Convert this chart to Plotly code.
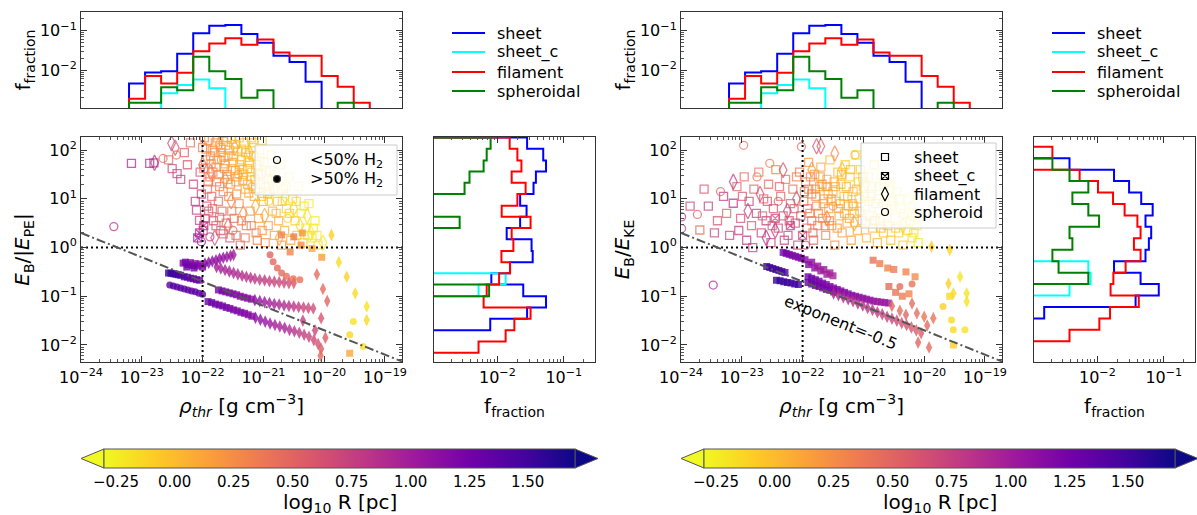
import plotly.graph_objects as go

W, H = 1197, 515
FONT = "DejaVu Sans"

# ---------------------------------------------------------------- data
# Histogram of rho_thr (log10 bin edges), identical sample in both panels
rho_edges = [-23.21, -22.946, -22.682, -22.418, -22.154, -21.89, -21.626,
             -21.362, -21.098, -20.834, -20.57, -20.306, -20.042, -19.778,
             -19.514, -19.25]
rho_frac_sheet = [4.6e-3, 8.7e-3, 9.4e-3, 0.026, 0.086, 0.133, 0.138, 0.082,
                  0.049, 0.023, 0.016, 5.1e-3, 0, 0, 0]
rho_frac_sheet_c = [0, 0, 2.6e-3, 4.2e-3, 5.8e-3, 3.5e-3, 0, 0, 0, 0, 0, 0, 0, 0, 0]
rho_frac_filament = [1.9e-3, 7.1e-3, 4.6e-3, 8.6e-3, 0.030, 0.047, 0.064, 0.044,
                     0.060, 0.028, 0.023, 0.023, 7.1e-3, 3.8e-3, 1.5e-3]
rho_frac_spheroidal = [1.5e-3, 1.5e-3, 3.7e-3, 3.1e-3, 0.022, 9.4e-3, 6.0e-3,
                       2.0e-3, 3.1e-3, 0, 0, 0, 0, 1.5e-3, 0]

# Histogram of E_B/|E_PE| (log10 bin edges, top to bottom)
pe_edges = [2.26, 2.03, 1.79, 1.56, 1.33, 1.10, 0.86, 0.63, 0.40, 0.17, -0.07,
            -0.30, -0.53, -0.76, -1.00, -1.23, -1.46, -1.70, -1.93, -2.16]
pe_frac_sheet = [0.028, 0.049, 0.054, 0.038, 0.035, 0.022, 0.0275, 0.022, 0.0138,
                 0.0327, 0.034, 0.0155, 0.0081, 0.0245, 0.054, 0.028, 0.0078, 0, 0]
pe_frac_sheet_c = [0, 0, 0, 0, 0, 0, 0, 0, 0, 0, 0, 0, 0.0133, 0.0052, 0, 0, 0, 0, 0]
pe_frac_filament = [0.0153, 0.020, 0.023, 0.0164, 0.0266, 0.020, 0.0116, 0.0316,
                    0.0164, 0.0174, 0.0115, 0.0155, 0.0106, 0.0069, 0.0062, 0.0316,
                    0.018, 0.0133, 0.0052]
pe_frac_spheroidal = [0.0079, 0.0069, 0.0062, 0.0038, 0.0032, 0, 0, 0.0027, 0, 0,
                      0, 0, 0, 0.0075, 0, 0, 0, 0, 0]

# Histogram of E_B/E_KE (log10 bin edges, top to bottom)
ke_edges = [2.07, 1.835, 1.60, 1.365, 1.13, 0.895, 0.66, 0.425, 0.19, -0.045,
            -0.28, -0.515, -0.75, -0.985, -1.22, -1.455, -1.69, -1.925]
ke_frac_sheet = [0, 0.0038, 0.0178, 0.030, 0.0457, 0.068, 0.053, 0.0646, 0.0596,
                 0.053, 0.0178, 0.0447, 0.084, 0.0376, 0.00158, 0, 0]
ke_frac_sheet_c = [0, 0, 0, 0, 0, 0, 0, 0, 0, 0, 0.0073, 0.0079, 0.0038, 0, 0, 0, 0]
ke_frac_filament = [0.0021, 0, 0.0054, 0.0102, 0.0172, 0.0257, 0.040, 0.0447,
                    0.0355, 0.0447, 0.0266, 0.0174, 0.0158, 0.042, 0.0155, 0.0107,
                    0.0038]
ke_frac_spheroidal = [0, 0.0021, 0.0038, 0.0073, 0.0042, 0.0073, 0.0106, 0.0038,
                      0.0042, 0.0021, 0.0026, 0.0073, 0, 0, 0, 0, 0]

# Structures: (log10 rho_thr, log10 energy ratio, log10 R/pc)
# --- E_B/|E_PE| panel, <50% H2 (open markers)
pe_sheet_open = [
    (-23.17, 1.73, 0.95), (-22.87, 1.73, 0.9), (-22.80, 1.74, 0.85), (-22.56, 1.80, 0.45),
    (-22.50, 1.62, 0.7), (-22.42, 1.52, 0.75), (-22.36, 1.40, 0.75), (-22.30, 1.95, 0.55),
    (-22.25, 1.70, 0.6), (-22.20, 2.15, 0.45), (-22.15, 1.30, 0.7), (-22.12, 0.95, 0.8),
    (-22.10, 0.77, 0.8), (-22.05, 0.56, 0.75), (-22.04, 1.55, 0.6), (-22.02, 1.10, 0.7),
    (-22.00, 2.05, 0.35), (-21.95, 1.80, 0.35), (-21.93, 0.85, 0.65), (-21.90, 2.20, 0.2),
    (-21.88, 1.45, 0.4), (-21.85, 1.05, 0.5), (-21.82, 0.55, 0.65), (-21.80, 1.95, 0.25),
    (-21.78, 1.65, 0.3), (-21.75, 2.25, 0.15), (-21.72, 1.25, 0.35), (-21.70, 0.35, 0.65),
    (-21.68, 0.75, 0.55), (-21.65, 1.85, 0.2), (-21.62, 2.10, 0.1), (-21.60, 1.50, 0.25),
    (-21.57, 1.05, 0.3), (-21.55, 0.20, 0.6), (-21.52, 2.22, 0.05), (-21.50, 1.75, 0.15),
    (-21.48, 0.60, 0.45), (-21.45, 1.35, 0.2), (-21.42, 1.98, 0.05), (-21.40, 0.90, 0.25),
    (-21.38, 0.05, 0.45), (-21.35, 1.60, 0.1), (-21.32, 2.15, 0.0), (-21.30, 1.20, 0.15),
    (-21.28, 0.45, 0.35), (-21.25, 1.85, 0.0), (-21.22, 0.75, 0.2), (-21.20, 1.45, 0.05),
    (-21.18, 2.05, -0.05), (-21.15, 1.05, 0.1), (-21.12, 0.30, 0.3), (-21.10, 1.70, -0.05),
    (-21.08, 0.60, 0.15), (-21.05, 1.30, 0.0), (-21.02, 2.20, -0.1), (-21.00, 0.95, 0.05),
    (-20.97, 0.10, 0.25), (-20.95, 1.55, -0.1), (-20.92, 0.45, 0.15), (-20.90, 1.15, -0.05),
    (-20.87, 1.90, -0.15), (-20.85, 0.75, 0.05), (-20.82, 0.25, 0.15), (-20.80, 1.40, -0.1),
    (-20.77, 0.95, -0.05), (-20.75, 0.55, 0.05), (-20.72, 1.70, -0.15), (-20.70, 0.05, 0.2),
    (-20.67, 1.20, -0.15), (-20.65, 0.35, 0.05), (-20.62, 0.80, -0.1), (-20.58, 1.45, -0.2),
    (-20.55, 0.15, 0.1), (-20.52, 1.00, -0.15), (-20.48, 0.55, -0.1), (-20.45, 0.25, -0.05),
    (-20.42, 1.25, -0.2), (-20.38, 0.70, -0.2), (-20.35, 0.10, -0.1), (-20.30, 0.40, -0.2),
    (-20.25, 0.90, -0.25), (-20.20, 0.20, -0.2), (-20.15, 0.55, -0.25), (-20.10, 0.05, -0.15),
    (-21.97, 2.25, 0.35), (-21.86, 1.72, 0.3), (-21.77, 1.35, 0.35), (-21.66, 1.15, 0.3),
    (-21.58, 1.88, 0.15), (-21.46, 1.58, 0.15), (-21.36, 1.80, 0.05), (-21.26, 1.62, 0.05),
    (-21.16, 1.88, -0.05), (-21.06, 1.78, -0.1), (-20.96, 1.25, -0.05), (-21.92, 1.20, 0.45),
    (-21.84, 2.00, 0.2), (-21.74, 0.95, 0.45), (-21.64, 1.62, 0.2), (-21.54, 1.30, 0.2),
    (-21.44, 1.10, 0.2), (-21.34, 1.38, 0.1), (-21.24, 1.12, 0.1), (-21.14, 1.40, 0.0),
    (-21.04, 1.50, -0.05), (-21.70, 2.05, 0.15), (-21.60, 2.25, 0.1), (-21.40, 2.25, 0.0),
    (-21.20, 2.25, -0.05),
    (-21.98, 1.62, 0.35), (-21.94, 2.02, 0.3), (-21.91, 1.35, 0.4), (-21.87, 1.88, 0.25),
    (-21.83, 1.55, 0.3), (-21.79, 2.15, 0.2), (-21.76, 1.80, 0.2), (-21.73, 1.50, 0.25),
    (-21.69, 1.95, 0.15), (-21.66, 2.18, 0.1), (-21.63, 1.72, 0.15), (-21.59, 1.40, 0.2),
    (-21.56, 2.00, 0.1), (-21.53, 1.62, 0.1), (-21.49, 1.88, 0.05), (-21.46, 2.12, 0.05),
    (-21.43, 1.45, 0.1), (-21.39, 1.70, 0.05), (-21.36, 2.02, 0.0), (-21.33, 1.50, 0.05),
    (-21.29, 1.95, 0.0), (-21.26, 1.30, 0.05), (-21.23, 1.75, -0.05), (-21.19, 1.55, 0.0),
    (-21.16, 2.15, -0.05), (-21.13, 1.20, 0.05), (-21.09, 1.52, -0.05), (-21.06, 2.00, -0.1),
    (-21.03, 1.05, 0.0), (-20.99, 1.75, -0.1), (-20.93, 1.10, -0.05), (-20.89, 1.58, -0.1),
    (-20.83, 1.20, -0.1), (-20.79, 0.70, 0.0), (-20.69, 0.95, -0.1), (-20.63, 1.25, -0.15),
    (-20.57, 0.70, -0.1), (-20.46, 0.95, -0.15), (-20.33, 0.85, -0.2), (-20.27, 0.25, -0.15),
    (-20.18, 0.40, -0.2), (-20.12, 0.25, -0.2),
    (-21.99, 0.35, 0.7), (-21.96, 0.60, 0.65), (-21.90, 0.75, 0.6), (-21.84, 0.80, 0.5),
    (-21.78, 0.45, 0.55), (-21.72, 0.62, 0.5), (-21.66, 0.28, 0.55), (-21.61, 0.50, 0.45),
    (-21.52, 0.75, 0.35), (-21.45, 0.25, 0.45), (-21.36, 0.55, 0.35), (-21.30, 0.20, 0.4),
    (-21.20, 0.45, 0.3), (-21.10, 0.15, 0.3), (-21.02, 0.35, 0.2),
]
pe_filament_open = [
    (-22.79, 1.74, 0.85), (-22.51, 2.14, 0.65), (-22.45, 2.05, 0.6), (-22.00, 1.70, 0.5),
    (-21.87, 1.55, 0.35), (-21.73, 2.12, 0.2), (-21.63, 1.40, 0.25), (-21.53, 0.95, 0.3),
    (-21.47, 2.05, 0.1), (-21.33, 0.70, 0.25), (-21.23, 1.95, 0.0), (-21.13, 0.85, 0.1),
    (-20.98, 0.65, 0.1), (-20.88, 1.35, -0.1), (-20.74, 0.20, 0.1), (-20.64, 1.05, -0.15),
    (-20.50, 0.80, -0.15), (-20.40, 0.45, -0.15), (-20.28, 0.65, -0.2), (-20.22, 0.30, -0.25),
    (-21.80, 0.20, 0.6), (-21.58, 0.45, 0.5), (-20.02, 0.10, -0.2),
]
pe_spheroid_open = [
    (-23.46, 0.43, 0.85), (-22.65, 1.83, 0.45), (-22.43, 1.90, 0.4), (-22.02, 0.12, 1.1),
    (-21.88, 0.22, 0.75), (-21.69, 1.80, 0.2), (-21.41, 1.50, 0.15), (-21.19, 1.25, 0.05),
    (-20.91, 0.95, -0.05), (-20.60, 0.60, -0.1), (-21.50, 0.35, 0.45),
]
pe_sheet_c_open = [(-22.05, 0.30, 0.95), (-21.98, 0.45, 0.85), (-22.08, 0.20, 1.0)]

# --- E_B/|E_PE| panel, >50% H2 (filled markers)
pe_sheet_c_fill = [
    (-22.56, -0.52, 1.55), (-22.52, -0.53, 1.55), (-22.48, -0.54, 1.5),
    (-22.44, -0.55, 1.5), (-22.40, -0.56, 1.5), (-22.36, -0.57, 1.45),
]
pe_sheet_fill = [
    (-22.30, -0.60, 1.4), (-22.25, -0.61, 1.4), (-22.20, -0.63, 1.35), (-22.15, -0.64, 1.35),
    (-22.10, -0.66, 1.3), (-22.05, -0.67, 1.3),
    (-22.32, -0.32, 1.25), (-22.28, -0.30, 1.25), (-22.24, -0.35, 1.2), (-22.20, -0.31, 1.2),
    (-22.16, -0.37, 1.2), (-22.12, -0.33, 1.15), (-22.08, -0.38, 1.2), (-22.04, -0.34, 1.15),
    (-22.00, -0.40, 1.15), (-22.26, -0.40, 1.3), (-22.14, -0.42, 1.25),
    (-20.70, 0.26, 0.3), (-20.50, 0.22, 0.35), (-20.36, 0.30, 0.2), (-20.56, -0.09, 0.3),
    (-20.20, -0.02, 0.05), (-20.04, -0.20, 0.15), (-20.38, 0.05, 0.25), (-19.58, -2.17, 0.1),
    (-21.91, -1.11, 1.3), (-21.85, -1.13, 1.3), (-21.79, -1.16, 1.28), (-21.73, -1.18, 1.27),
    (-21.67, -1.20, 1.25), (-21.61, -1.23, 1.25), (-21.55, -1.25, 1.22), (-21.49, -1.28, 1.2),
    (-21.43, -1.30, 1.2), (-21.37, -1.33, 1.18), (-21.31, -1.35, 1.17), (-21.25, -1.38, 1.15),
    (-21.19, -1.41, 1.15),
    (-21.74, -0.87, 1.25), (-21.68, -0.89, 1.25), (-21.62, -0.91, 1.22), (-21.56, -0.93, 1.2),
    (-21.50, -0.95, 1.2), (-21.44, -0.97, 1.18), (-21.38, -1.00, 1.17), (-21.32, -1.02, 1.15),
    (-21.26, -1.04, 1.13), (-21.20, -1.06, 1.12),
]
pe_filament_fill = [
    (-21.96, -0.33, 1.15), (-21.90, -0.31, 1.15), (-21.84, -0.28, 1.12), (-21.78, -0.26, 1.1),
    (-21.72, -0.23, 1.1), (-21.66, -0.21, 1.08), (-21.60, -0.19, 1.05), (-21.54, -0.17, 1.05),
    (-21.49, -0.15, 1.0),
    (-21.77, -0.40, 1.0), (-21.70, -0.43, 0.98), (-21.63, -0.46, 0.95), (-21.56, -0.49, 0.95),
    (-21.49, -0.52, 0.92), (-21.42, -0.55, 0.9), (-21.35, -0.58, 0.88), (-21.28, -0.60, 0.87),
    (-21.21, -0.62, 0.85), (-21.14, -0.64, 0.82), (-21.06, -0.66, 0.8), (-20.98, -0.67, 0.78),
    (-20.90, -0.69, 0.75), (-20.82, -0.70, 0.72), (-20.74, -0.71, 0.7), (-20.66, -0.72, 0.68),
    (-20.58, -0.73, 0.65), (-20.50, -0.73, 0.6),
    (-21.14, -1.08, 1.1), (-21.06, -1.10, 1.07), (-20.98, -1.12, 1.03), (-20.90, -1.14, 1.0),
    (-20.82, -1.16, 0.97), (-20.74, -1.17, 0.93), (-20.66, -1.19, 0.9), (-20.58, -1.20, 0.87),
    (-20.50, -1.21, 0.82), (-20.42, -1.22, 0.78), (-20.34, -1.23, 0.73), (-20.26, -1.24, 0.7),
    (-20.18, -1.25, 0.65),
    (-21.13, -1.44, 1.12), (-21.05, -1.48, 1.1), (-20.97, -1.52, 1.07), (-20.89, -1.56, 1.03),
    (-20.81, -1.59, 1.0), (-20.73, -1.62, 0.97), (-20.65, -1.65, 0.95), (-20.57, -1.69, 0.9),
    (-20.49, -1.72, 0.85), (-20.41, -1.75, 0.8), (-20.33, -1.79, 0.77), (-20.25, -1.83, 0.73),
    (-20.17, -1.90, 0.68), (-20.10, -1.98, 0.62), (-20.05, -2.08, 0.55),
    (-20.35, -1.50, 0.75), (-20.15, -1.70, 0.7), (-20.05, -1.45, 0.6), (-19.98, -1.85, 0.55),
    (-20.06, -2.22, 0.45), (-19.95, -1.10, 0.5), (-20.02, -0.85, 0.45), (-20.12, -0.55, 0.45),
    (-19.88, 0.26, -0.1), (-19.76, -0.30, -0.15), (-19.63, -0.60, -0.1), (-19.49, -0.94, -0.15),
    (-19.30, -1.21, -0.2), (-19.30, -1.49, -0.15),
]
pe_spheroid_fill = [
    (-20.89, -0.15, 0.5), (-20.84, -0.29, 0.48), (-20.77, -0.42, 0.46), (-20.70, -0.52, 0.45),
    (-20.62, -0.59, 0.43), (-20.51, -0.64, 0.42), (-20.40, -0.66, 0.4),
    (-22.54, -0.77, 1.4), (-22.48, -0.79, 1.4), (-22.42, -0.81, 1.38), (-22.36, -0.83, 1.38),
    (-22.30, -0.85, 1.36), (-22.24, -0.87, 1.36), (-22.18, -0.89, 1.35), (-22.12, -0.91, 1.35),
    (-22.06, -0.94, 1.33), (-22.00, -0.96, 1.33),
    (-19.52, -1.52, -0.2), (-19.58, -1.79, -0.15), (-19.36, -2.03, -0.2),
]

# --- E_B/E_KE panel, <50% H2 (open markers)
ke_sheet_open = [
    (-23.69, 0.36, 0.45), (-23.55, 0.85, 0.75), (-23.40, 0.55, 0.6), (-23.30, 1.05, 0.8),
    (-23.20, 0.25, 0.7), (-23.14, 0.91, 0.85), (-23.08, 1.25, 0.5), (-23.02, 0.60, 0.65),
    (-22.96, 1.45, 0.45), (-22.92, 0.15, 0.8), (-22.88, 0.95, 0.7), (-22.84, 0.45, 0.6),
    (-22.80, 1.20, 0.55), (-22.76, 0.70, 0.75), (-22.72, 1.55, 0.4), (-22.68, 0.30, 0.7),
    (-22.64, 1.00, 0.5), (-22.60, 0.55, 0.8), (-22.56, 1.30, 0.45), (-22.52, 0.10, 0.75),
    (-22.48, 0.80, 0.6), (-22.44, 1.60, 0.35), (-22.40, 0.40, 0.7), (-22.36, 1.05, 0.5),
    (-22.32, 0.65, 0.65), (-22.28, 1.40, 0.4), (-22.24, 0.25, 0.75), (-22.20, 0.90, 0.55),
    (-22.16, 1.20, 0.45), (-22.12, 0.50, 0.65), (-22.08, 0.05, 0.7), (-22.05, 1.55, 0.4),
    (-23.85, 0.85, 0.7), (-23.62, 1.20, 0.6), (-23.45, 0.30, 0.75), (-23.25, 0.70, 0.55),
    (-23.05, 0.35, 0.8), (-22.99, 1.05, 0.6), (-22.82, 0.00, 0.75), (-22.66, 0.65, 0.55),
    (-22.58, 0.95, 0.65), (-22.50, 0.45, 0.55), (-22.38, 1.25, 0.5), (-22.30, 0.15, 0.7),
    (-22.22, 0.55, 0.6), (-22.14, 0.80, 0.55), (-22.10, 1.45, 0.35), (-22.03, 0.65, 0.6),
    (-21.98, 0.95, 0.4), (-21.95, 1.35, 0.3), (-21.93, 0.40, 0.45), (-21.90, 1.75, 0.2),
    (-21.88, 0.70, 0.35), (-21.85, 1.10, 0.3), (-21.82, 0.15, 0.45), (-21.80, 1.50, 0.15),
    (-21.77, 0.85, 0.25), (-21.75, 0.45, 0.35), (-21.72, 1.25, 0.15), (-21.70, 1.65, 0.1),
    (-21.67, 0.60, 0.25), (-21.65, 1.00, 0.15), (-21.62, 0.25, 0.3), (-21.60, 1.40, 0.05),
    (-21.57, 0.80, 0.15), (-21.55, 1.80, 0.0), (-21.52, 0.45, 0.2), (-21.50, 1.15, 0.05),
    (-21.47, 0.05, 0.25), (-21.45, 0.95, 0.05), (-21.42, 1.55, 0.0), (-21.40, 0.65, 0.1),
    (-21.37, 1.30, 0.0), (-21.35, 0.30, 0.15), (-21.32, 1.05, 0.0), (-21.30, 1.70, -0.1),
    (-21.27, 0.50, 0.1), (-21.25, 0.85, 0.0), (-21.22, 1.45, -0.1), (-21.20, 0.15, 0.15),
    (-21.17, 1.15, -0.05), (-21.15, 0.70, 0.0), (-21.12, 1.90, -0.15), (-21.10, 0.35, 0.1),
    (-21.07, 1.00, -0.05), (-21.05, 1.60, -0.1), (-21.02, 0.55, 0.05), (-21.00, 1.25, -0.05),
    (-20.97, 0.85, -0.05), (-20.95, 0.20, 0.05), (-20.92, 1.45, -0.15), (-20.90, 0.65, -0.05),
    (-20.87, 1.05, -0.1), (-20.85, 0.40, 0.0), (-20.82, 1.70, -0.15), (-20.80, 0.90, -0.1),
    (-20.77, 0.10, 0.05), (-20.75, 1.25, -0.15), (-20.72, 0.60, -0.1), (-20.70, 1.50, -0.2),
    (-20.67, 0.30, -0.05), (-20.65, 1.05, -0.15), (-20.62, 0.80, -0.15), (-20.60, 0.45, -0.1),
    (-20.57, 1.35, -0.2), (-20.55, 0.15, -0.05), (-20.52, 0.95, -0.2), (-20.48, 0.60, -0.15),
    (-20.45, 1.15, -0.2), (-20.42, 0.30, -0.1), (-20.38, 0.80, -0.2), (-20.35, 0.05, -0.1),
    (-20.30, 0.50, -0.2), (-20.25, 1.00, -0.25), (-20.20, 0.20, -0.15), (-20.15, 0.65, -0.25),
    (-20.10, 0.10, -0.2),
    (-21.90, 1.20, 0.3), (-21.78, 1.05, 0.25), (-21.68, 1.30, 0.2), (-21.58, 1.10, 0.15),
    (-21.48, 1.35, 0.1), (-21.38, 0.90, 0.1), (-21.28, 1.25, 0.05), (-21.18, 0.90, 0.05),
    (-21.08, 1.35, -0.05), (-20.98, 1.05, -0.05), (-21.85, 0.55, 0.4), (-21.63, 0.45, 0.3),
    (-21.43, 0.40, 0.2), (-21.23, 0.60, 0.1),
    (-21.97, 1.15, 0.35), (-21.92, 0.80, 0.4), (-21.87, 1.45, 0.3), (-21.83, 0.30, 0.45),
    (-21.79, 1.20, 0.25), (-21.74, 0.70, 0.3), (-21.71, 1.45, 0.2), (-21.66, 0.90, 0.2),
    (-21.61, 1.25, 0.15), (-21.56, 0.55, 0.25), (-21.53, 1.00, 0.15), (-21.46, 1.25, 0.1),
    (-21.41, 0.80, 0.1), (-21.36, 1.50, 0.05), (-21.31, 0.70, 0.1), (-21.26, 1.05, 0.05),
    (-21.21, 1.60, 0.0), (-21.16, 0.85, 0.05), (-21.11, 1.20, 0.0), (-21.06, 0.75, 0.05),
    (-21.01, 1.45, -0.05), (-20.96, 0.50, 0.05), (-20.91, 0.95, -0.05), (-20.86, 1.25, -0.1),
    (-20.81, 0.55, 0.0), (-20.76, 1.00, -0.1), (-20.71, 0.40, 0.0), (-20.66, 1.30, -0.15),
    (-20.61, 0.65, -0.1), (-20.54, 0.85, -0.15), (-20.47, 0.40, -0.1), (-20.41, 1.00, -0.2),
    (-20.33, 0.70, -0.2), (-20.27, 0.35, -0.15), (-20.22, 0.55, -0.2), (-20.17, 0.30, -0.2),
    (-20.12, 0.45, -0.25),
]
ke_filament_open = [
    (-23.14, 1.35, 0.8), (-22.32, 1.59, 0.6), (-21.77, 2.08, 0.6), (-21.70, 2.08, 0.55),
    (-21.47, 1.93, 0.3), (-22.90, 0.75, 0.75), (-22.70, 1.10, 0.65), (-22.45, 0.35, 0.8),
    (-22.25, 0.75, 0.7), (-22.10, 1.00, 0.6), (-21.85, 1.60, 0.2), (-21.60, 0.60, 0.3),
    (-21.35, 1.60, 0.0), (-21.15, 0.50, 0.1), (-20.95, 1.30, -0.1), (-20.75, 0.75, -0.05),
    (-20.55, 1.20, -0.2), (-20.35, 0.45, -0.15), (-20.20, 0.85, -0.25), (-22.60, 0.20, 0.85),
]
ke_spheroid_open = [
    (-23.99, 0.63, 0.85), (-23.99, 0.39, 0.8), (-23.73, 0.68, 0.55), (-23.47, -0.77, 0.95),
    (-22.97, 2.10, 0.4), (-22.54, 1.73, 0.35), (-22.02, 2.07, 0.45), (-21.14, 1.90, 0.0),
    (-23.35, 1.15, 0.5), (-22.75, 1.45, 0.4), (-22.40, 0.95, 0.55), (-21.95, 0.05, 0.7),
    (-21.50, 0.85, 0.2), (-20.85, 0.55, 0.0),
]
ke_sheet_c_open = [(-22.20, 0.45, 0.8), (-22.00, 0.25, 0.75), (-22.45, 0.60, 0.7)]

# --- E_B/E_KE panel, >50% H2 (filled markers)
ke_sheet_c_fill = [
    (-22.59, -0.39, 1.5), (-22.54, -0.41, 1.5), (-22.49, -0.43, 1.5), (-22.44, -0.45, 1.48),
    (-22.39, -0.47, 1.48), (-22.34, -0.49, 1.45), (-22.29, -0.51, 1.45),
    (-22.43, -0.67, 1.55), (-22.37, -0.68, 1.55), (-22.31, -0.70, 1.52), (-22.25, -0.72, 1.52),
    (-22.19, -0.73, 1.5), (-22.13, -0.75, 1.5), (-22.07, -0.76, 1.48),
]
ke_sheet_fill = [
    (-22.32, -0.10, 1.25), (-22.27, -0.12, 1.25), (-22.22, -0.14, 1.22), (-22.17, -0.16, 1.22),
    (-22.12, -0.18, 1.2), (-22.07, -0.20, 1.2), (-22.02, -0.22, 1.18),
    (-21.96, -0.25, 1.15), (-21.90, -0.35, 1.15), (-21.85, -0.30, 1.1), (-21.80, -0.42, 1.1),
    (-21.75, -0.38, 1.05), (-21.70, -0.48, 1.05), (-21.65, -0.45, 1.0), (-21.60, -0.55, 1.0),
    (-21.55, -0.52, 0.98), (-21.50, -0.58, 0.95),
    (-21.91, -0.60, 1.3), (-21.91, -0.72, 1.3), (-21.85, -0.63, 1.28), (-21.85, -0.75, 1.28),
    (-21.79, -0.66, 1.27), (-21.79, -0.78, 1.27), (-21.73, -0.69, 1.25), (-21.73, -0.80, 1.25),
    (-21.67, -0.73, 1.24), (-21.67, -0.83, 1.24), (-21.61, -0.76, 1.22), (-21.61, -0.86, 1.22),
    (-21.55, -0.80, 1.2), (-21.55, -0.88, 1.2), (-21.49, -0.83, 1.2), (-21.49, -0.91, 1.2),
    (-21.43, -0.86, 1.18), (-21.37, -0.89, 1.18), (-21.31, -0.92, 1.17), (-21.25, -0.95, 1.15),
    (-21.19, -0.98, 1.15), (-21.13, -1.00, 1.13), (-21.07, -1.02, 1.12), (-21.01, -1.04, 1.1),
    (-20.95, -1.06, 1.1), (-20.89, -1.08, 1.08), (-20.83, -1.10, 1.07), (-20.77, -1.11, 1.05),
    (-20.71, -1.12, 1.05), (-20.65, -1.13, 1.03), (-20.59, -1.14, 1.02),
    (-20.84, -0.26, 0.4), (-20.73, -0.33, 0.35), (-20.60, -0.42, 0.3), (-20.50, -0.45, 0.35),
    (-20.58, -0.80, 0.45), (-20.47, -0.92, 0.4), (-20.36, -1.00, 0.35), (-20.25, -0.95, 0.3),
    (-20.15, -0.60, 0.25), (-20.30, -0.50, 0.3), (-19.58, -1.00, -0.15), (-19.52, -2.00, -0.1),
]
ke_filament_fill = [
    (-21.49, -0.94, 0.95), (-21.41, -0.98, 0.93), (-21.33, -1.02, 0.92), (-21.25, -1.06, 0.9),
    (-21.17, -1.10, 0.88), (-21.09, -1.15, 0.87), (-21.01, -1.19, 0.85), (-20.93, -1.24, 0.83),
    (-20.85, -1.28, 0.8), (-20.77, -1.33, 0.78), (-20.69, -1.37, 0.75), (-20.61, -1.42, 0.73),
    (-20.53, -1.46, 0.7), (-20.45, -1.50, 0.68), (-20.37, -1.55, 0.65), (-20.29, -1.59, 0.62),
    (-20.21, -1.64, 0.6), (-20.13, -1.70, 0.57), (-20.05, -1.76, 0.55),
    (-20.53, -1.20, 0.5), (-20.40, -1.30, 0.45), (-20.30, -1.38, 0.5), (-20.12, -1.35, 0.45),
    (-20.00, -1.42, 0.4), (-19.95, -1.60, 0.45), (-20.10, -1.95, 0.5), (-19.92, -2.05, 0.45),
    (-19.85, -1.45, 0.4), (-20.20, -1.15, 0.45),
    (-19.88, 0.02, -0.1), (-19.58, -0.05, -0.15), (-19.60, -0.74, -0.1), (-19.52, -0.94, -0.15),
    (-19.30, -1.11, -0.2), (-19.41, -0.60, -0.2), (-19.30, -0.94, -0.2),
]
ke_spheroid_fill = [
    (-19.69, -1.21, -0.1), (-19.55, -1.49, -0.15), (-19.33, -1.69, -0.2), (-19.52, -1.69, -0.15),
    (-20.40, -0.80, 0.45), (-20.20, -0.75, 0.4),
]

# power-law guide: ratio = norm * (rho / rho0) ** exponent
guide_norm, guide_rho0, guide_exponent = 2.0, 1e-24, -0.5
ratio_threshold, rho_threshold = 1.0, 1e-22

rho_tick_exp = [-24, -23, -22, -21, -20, -19]
ratio_tick_exp = [-2, -1, 0, 1, 2]
frac_tick_exp = [-2, -1]
cbar_ticks = [-0.25, 0.0, 0.25, 0.5, 0.75, 1.0, 1.25, 1.5]
R_min, R_max = -0.3, 1.7

kinds = ["sheet", "sheet_c", "filament", "spheroidal"]
shape_kinds = ["sheet", "sheet_c", "filament", "spheroid"]
h2_labels = ["<50% H<sub>2</sub>", ">50% H<sub>2</sub>"]

# ---------------------------------------------------------------- styling
RHO_RANGE = [-24, -18.72]
RATIO_RANGE = [-2.35, 2.27]
FRAC_RANGE = [-2.955, -0.53]
FLOOR = 1e-7
kind_color = {"sheet": "#0000ff", "sheet_c": "#00ffff",
              "filament": "#ff0000", "spheroidal": "#008000"}
symbols = {"sheet": "square", "sheet_c": "square-x",
           "filament": "diamond-tall", "spheroid": "circle"}
size_open = {"sheet": 8, "sheet_c": 8, "filament": 11, "spheroid": 8}
size_fill = {"sheet": 7, "sheet_c": 7, "filament": 9, "spheroid": 7}


def xdom(a, b):
    return [a / W, b / W]


def ydom(top, bottom):
    return [1 - bottom / H, 1 - top / H]


def sup(e):
    return "10<sup>" + ("\u2212" if e < 0 else "") + str(abs(e)) + "</sup>"


fig = go.Figure()


def top_hist(xa, ya, vals, kind):
    e = [10 ** v for v in rho_edges]
    v = [x if x > 0 else FLOOR for x in vals]
    xs = [e[0]] + e[:-1] + [e[-1], e[-1]]
    ys = [FLOOR] + v + [v[-1], FLOOR]
    fig.add_trace(go.Scatter(x=xs, y=ys, mode="lines", line_shape="hv",
                             line=dict(color=kind_color[kind], width=2),
                             showlegend=False, xaxis=xa, yaxis=ya))


def side_hist(xa, ya, edges, vals, kind):
    e = [10 ** v for v in edges]
    v = [x if x > 0 else FLOOR for x in vals]
    ys = [e[0]] + e[:-1] + [e[-1], e[-1]]
    xs = [FLOOR] + v + [v[-1], FLOOR]
    fig.add_trace(go.Scatter(x=xs, y=ys, mode="lines", line_shape="vh",
                             line=dict(color=kind_color[kind], width=2),
                             showlegend=False, xaxis=xa, yaxis=ya))


def cloud(xa, ya, cax, pts, kind, filled):
    sym = symbols[kind] + ("" if filled else "-open")
    fig.add_trace(go.Scatter(
        x=[10 ** p[0] for p in pts], y=[10 ** p[1] for p in pts], mode="markers",
        marker=dict(symbol=sym, size=(size_fill if filled else size_open)[kind],
                    color=[p[2] for p in pts], coloraxis=cax,
                    opacity=0.8 if filled else 0.72,
                    line=dict(width=0 if filled else 1.3)),
        showlegend=False, xaxis=xa, yaxis=ya, hoverinfo="skip"))


def guides(xa, ya):
    lo, hi = 10 ** RHO_RANGE[0], 10 ** RHO_RANGE[1]
    ylo, yhi = 10 ** RATIO_RANGE[0], 10 ** RATIO_RANGE[1]
    dots = dict(color="black", width=2, dash="2px,3px")
    fig.add_trace(go.Scatter(x=[lo, hi], y=[ratio_threshold] * 2, mode="lines", line=dots,
                             showlegend=False, xaxis=xa, yaxis=ya, hoverinfo="skip"))
    fig.add_trace(go.Scatter(x=[rho_threshold] * 2, y=[ylo, yhi], mode="lines", line=dots,
                             showlegend=False, xaxis=xa, yaxis=ya, hoverinfo="skip"))
    gx = [lo, hi]
    gy = [guide_norm * (r / guide_rho0) ** guide_exponent for r in gx]
    fig.add_trace(go.Scatter(x=gx, y=gy, mode="lines",
                             line=dict(color="#555555", width=2, dash="9px,3px,2px,3px"),
                             showlegend=False, xaxis=xa, yaxis=ya, hoverinfo="skip"))


panels = [
    dict(off=0, ax=("x", "y", "x2", "y2", "x3", "y3"), cax="coloraxis",
         ylab="<i>E</i><sub>B</sub>/|<i>E</i><sub>PE</sub>|", edges=pe_edges,
         side=[pe_frac_sheet, pe_frac_sheet_c, pe_frac_filament, pe_frac_spheroidal],
         open=[pe_sheet_open, pe_sheet_c_open, pe_filament_open, pe_spheroid_open],
         fill=[pe_sheet_fill, pe_sheet_c_fill, pe_filament_fill, pe_spheroid_fill]),
    dict(off=600, ax=("x4", "y4", "x5", "y5", "x6", "y6"), cax="coloraxis2",
         ylab="<i>E</i><sub>B</sub>/<i>E</i><sub>KE</sub>", edges=ke_edges,
         side=[ke_frac_sheet, ke_frac_sheet_c, ke_frac_filament, ke_frac_spheroidal],
         open=[ke_sheet_open, ke_sheet_c_open, ke_filament_open, ke_spheroid_open],
         fill=[ke_sheet_fill, ke_sheet_c_fill, ke_filament_fill, ke_spheroid_fill]),
]
rho_top = [rho_frac_sheet, rho_frac_sheet_c, rho_frac_filament, rho_frac_spheroidal]

tick_font = dict(family=FONT, size=16, color="black")
title_font = dict(family=FONT, size=20, color="black")
axis_common = dict(showline=True, linecolor="#333333", linewidth=1, mirror="ticks",
                   ticks="inside", ticklen=6, tickwidth=1, tickcolor="#333333",
                   showgrid=False, zeroline=False, tickfont=tick_font, automargin=False,
                   minor=dict(ticks="inside", ticklen=3, tickcolor="#555555",
                              dtick="D1", showgrid=False))


def axname(a, letter):
    return letter + "axis" + a[1:]


for P in panels:
    o = P["off"]
    xa1, ya1, xa2, ya2, xa3, ya3 = P["ax"]
    for vals, k in zip(rho_top, kinds):
        top_hist(xa1, ya1, vals, k)
    for pts, k in zip(P["open"], shape_kinds):
        cloud(xa2, ya2, P["cax"], pts, k, False)
    for pts, k in zip(P["fill"], shape_kinds):
        cloud(xa2, ya2, P["cax"], pts, k, True)
    guides(xa2, ya2)
    for vals, k in zip(P["side"], kinds):
        side_hist(xa3, ya3, P["edges"], vals, k)

    fig.update_layout(**{
        axname(xa1, "x"): dict(type="log", range=RHO_RANGE, domain=xdom(81 + o, 402 + o),
                               anchor=ya1, showline=True, linecolor="#333333", linewidth=1,
                               mirror=True, ticks="", showticklabels=False, showgrid=False,
                               zeroline=False, automargin=False),
        axname(ya1, "y"): dict(axis_common, type="log", range=FRAC_RANGE, domain=ydom(12, 108),
                               anchor=xa1, tickvals=[10 ** e for e in frac_tick_exp],
                               ticktext=[sup(e) for e in frac_tick_exp],
                               title=dict(text="f<sub>fraction</sub>", font=title_font,
                                          standoff=3)),
        axname(xa2, "x"): dict(axis_common, type="log", range=RHO_RANGE,
                               domain=xdom(81 + o, 402 + o), anchor=ya2,
                               tickvals=[10 ** e for e in rho_tick_exp],
                               ticktext=[sup(e) for e in rho_tick_exp], ticklabelstandoff=1,
                               title=dict(text="<i>\u03c1<sub>thr</sub></i> [g cm<sup>\u22123</sup>]",
                                          font=title_font, standoff=12)),
        axname(ya2, "y"): dict(axis_common, type="log", range=RATIO_RANGE, domain=ydom(137, 362),
                               anchor=xa2, tickvals=[10 ** e for e in ratio_tick_exp],
                               ticktext=[sup(e) for e in ratio_tick_exp],
                               title=dict(text=P["ylab"], font=title_font, standoff=4)),
        axname(xa3, "x"): dict(axis_common, type="log", range=FRAC_RANGE,
                               domain=xdom(434 + o, 595 + o), anchor=ya3,
                               tickvals=[10 ** e for e in frac_tick_exp],
                               ticktext=[sup(e) for e in frac_tick_exp], ticklabelstandoff=1,
                               title=dict(text="f<sub>fraction</sub>", font=title_font,
                                          standoff=12)),
        axname(ya3, "y"): dict(type="log", range=RATIO_RANGE, domain=ydom(137, 362), anchor=xa3,
                               showline=True, linecolor="#333333", linewidth=1, mirror=True,
                               ticks="", showticklabels=False, showgrid=False, zeroline=False,
                               automargin=False),
    })

# ---------------------------------------------------------------- overlay in pixel units
# (legends, colour-bar labels/extensions and the guide label are placed on this canvas)
OV = dict(xaxis="x7", yaxis="y7", showlegend=False, hoverinfo="skip")
fig.update_layout(
    xaxis7=dict(domain=[0, 1], range=[0, W], anchor="y7", visible=False, automargin=False),
    yaxis7=dict(domain=[0, 1], range=[H, 0], anchor="x7", visible=False, automargin=False),
)
annotations = []


def text_at(x, y, s, size=16, xanchor="left", angle=0):
    annotations.append(dict(text=s, x=x, y=y, xref="x7", yref="y7", xanchor=xanchor,
                            yanchor="middle", showarrow=False, textangle=angle,
                            font=dict(family=FONT, size=size, color="black")))


def legend_box(x0, y0, x1, y1):
    fig.add_trace(go.Scatter(x=[x0, x1, x1, x0, x0], y=[y0, y0, y1, y1, y0], mode="lines",
                             fill="toself", fillcolor="rgba(255,255,255,0.82)",
                             line=dict(color="#cccccc", width=1), **OV))


for o in (0, 600):
    for k, yrow in zip(kinds, [33, 52, 72, 91]):
        fig.add_trace(go.Scatter(x=[452 + o, 485 + o], y=[yrow, yrow], mode="lines",
                                 line=dict(color=kind_color[k], width=2), **OV))
        text_at(495 + o, yrow, k)

# hydrogen-fraction legend (left panel)
legend_box(255, 145, 397, 195)
for lab, sym, yrow in zip(h2_labels, ["circle-open", "circle"], [160, 179]):
    fig.add_trace(go.Scatter(x=[277], y=[yrow], mode="markers",
                             marker=dict(symbol=sym, size=7, color="black",
                                         line=dict(width=1.2)), **OV))
    text_at(308, yrow, lab)

# morphology legend (right panel)
legend_box(861, 143, 996, 228)
for k, yrow in zip(shape_kinds, [157, 176, 194, 212]):
    fig.add_trace(go.Scatter(x=[885], y=[yrow], mode="markers",
                             marker=dict(symbol=symbols[k] + "-open", size=size_open[k] - 1,
                                         color="black", line=dict(width=1.2)), **OV))
    text_at(912, yrow, k)

text_at(841, 322, "exponent=-0.5", xanchor="center", angle=22)

# colour bars
CB_TOP, CB_BOT, CB_L, CB_R = 449, 468, 104, 575


def cbar(center_px):
    return dict(orientation="h", x=center_px / W, xanchor="center", y=1 - CB_TOP / H,
                yanchor="top", len=CB_R - CB_L, lenmode="pixels", thickness=CB_BOT - CB_TOP,
                xpad=0, ypad=0, outlinewidth=1, outlinecolor="#555555",
                showticklabels=False, ticks="", title=dict(text=""))


caxis = dict(colorscale="Plasma", reversescale=True, cmin=R_min, cmax=R_max)
fig.update_layout(coloraxis=dict(caxis, colorbar=cbar((CB_L + CB_R) / 2)),
                  coloraxis2=dict(caxis, colorbar=cbar((CB_L + CB_R) / 2 + 600)))

shapes = []
for o in (0, 600):
    ym = (CB_TOP + CB_BOT) / 2
    shapes.append(dict(type="path", xref="x7", yref="y7",
                       path=f"M {CB_L + o},{CB_TOP} L {81 + o},{ym} L {CB_L + o},{CB_BOT} Z",
                       fillcolor="#f0f921", line=dict(color="#555555", width=1)))
    shapes.append(dict(type="path", xref="x7", yref="y7",
                       path=f"M {CB_R + o},{CB_TOP} L {598 + o},{ym} L {CB_R + o},{CB_BOT} Z",
                       fillcolor="#0d0887", line=dict(color="#555555", width=1)))
    for v in cbar_ticks:
        xt = CB_L + o + (v - R_min) / (R_max - R_min) * (CB_R - CB_L)
        shapes.append(dict(type="line", xref="x7", yref="y7", x0=xt, x1=xt,
                           y0=CB_TOP, y1=CB_TOP + 5, line=dict(color="#222222", width=1)))
        text_at(xt, 482, f"{v:.2f}".replace("-", "\u2212"), size=15, xanchor="center")
    text_at((CB_L + CB_R) / 2 + o, 503, "log<sub>10</sub> R [pc]", size=20, xanchor="center")

fig.update_layout(
    width=W, height=H, margin=dict(l=0, r=0, t=0, b=0),
    paper_bgcolor="white", plot_bgcolor="rgba(0,0,0,0)",
    font=dict(family=FONT, color="black"),
    shapes=shapes, annotations=annotations, showlegend=False,
)

fig.write_html("out.html")
